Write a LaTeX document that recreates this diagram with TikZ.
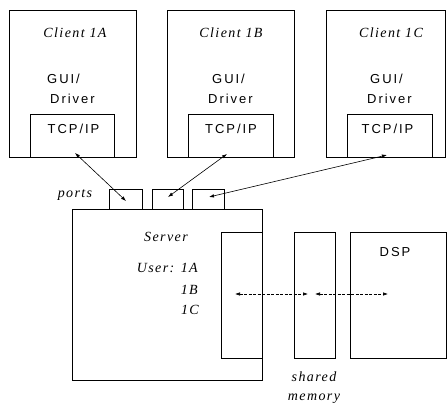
\documentclass[tikz,border=0pt]{standalone}
\usepackage{fontspec}
\setmainfont{Liberation Serif}
\newfontfamily\labfont[LetterSpace=10]{Liberation Serif}
\newfontfamily\guifont[LetterSpace=15]{Liberation Sans}
\usetikzlibrary{arrows.meta}
\begin{document}
\begin{tikzpicture}[x=1pt,y=-1pt,
  box/.style={draw,line width=0.9pt,fill=white,inner sep=0pt},
  itl/.style={font=\labfont\itshape\fontsize{14}{16}\selectfont,inner sep=0pt},
  sans/.style={font=\guifont\fontsize{13}{15}\selectfont,inner sep=0pt},
  link/.style={line width=0.6pt,{Latex[length=5pt,width=3.5pt]}-{Latex[length=5pt,width=3.5pt]}},
  dlink/.style={link,dashed,dash pattern=on 3pt off 1.5pt}]
\useasboundingbox (0,0) rectangle (448,403);
% clients
\node[box,minimum width=127pt,minimum height=147pt] (cA) at (72.5,83.5) {};
\node[box,minimum width=127pt,minimum height=147pt] (cB) at (230.5,83.5) {};
\node[box,minimum width=119pt,minimum height=147pt] (cC) at (385.5,83.5) {};
\node[box,minimum width=84pt,minimum height=43pt] (tA) at (72,135.5) {};
\node[box,minimum width=85pt,minimum height=43pt] (tB) at (230.5,135.5) {};
\node[box,minimum width=85pt,minimum height=43pt] (tC) at (389.5,135.5) {};
\node[itl] (lA) at (75,33) {Client 1A};
\node[itl] (lB) at (231,33) {Client 1B};
\node[itl] (lC) at (391,33) {Client 1C};
\node[sans,anchor=west] (gA) at (47,79) {GUI/};
\node[sans,anchor=west] (dA) at (50,99) {Driver};
\node[sans,anchor=west] (gB) at (212,79) {GUI/};
\node[sans,anchor=west] (dB) at (208,99) {Driver};
\node[sans,anchor=west] (gC) at (370,79) {GUI/};
\node[sans,anchor=west] (dC) at (367,99) {Driver};
\node[sans] (xA) at (73.5,129) {TCP/IP};
\node[sans] (xB) at (231,129) {TCP/IP};
\node[sans] (xC) at (387.5,129) {TCP/IP};
% server
\node[box,minimum width=33pt,minimum height=21pt] (p1) at (125.5,199.5) {};
\node[box,minimum width=31pt,minimum height=21pt] (p2) at (167.5,199.5) {};
\node[box,minimum width=32pt,minimum height=21pt] (p3) at (208,199.5) {};
\node[box,minimum width=190pt,minimum height=171pt] (srv) at (167,294.5) {};
\node[box,minimum width=41pt,minimum height=126pt] (in) at (241.5,295) {};
\node[box,minimum width=41pt,minimum height=126pt] (sh) at (314.5,295) {};
\node[box,minimum width=96pt,minimum height=126pt] (dsp) at (398,295) {};
\node[itl] (ports) at (75,195) {ports};
\node[itl] (slab) at (166,237) {Server};
\node[itl,anchor=east] (u1) at (198,268) {User: 1A};
\node[itl,anchor=east] (u2) at (198,290) {1B};
\node[itl,anchor=east] (u3) at (199,310) {1C};
\node[sans] (dl) at (395,252) {DSP};
\node[itl] (sm1) at (314,377) {shared};
\node[itl] (sm2) at (314,399) {memory};
% connectors
\coordinate (a1) at (126,201); \coordinate (b1) at (75,153);
\coordinate (a2) at (168,197); \coordinate (b2) at (227,154);
\coordinate (a3) at (209,197); \coordinate (b3) at (387,155);
\draw[link] (a1) -- (b1);
\draw[link] (a2) -- (b2);
\draw[link] (a3) -- (b3);
\coordinate (d1) at (235,294); \coordinate (d2) at (308,294);
\coordinate (d3) at (315,294); \coordinate (d4) at (388,294);
\draw[dlink] (d1) -- (d2);
\draw[dlink] (d3) -- (d4);
\end{tikzpicture}
\end{document}
